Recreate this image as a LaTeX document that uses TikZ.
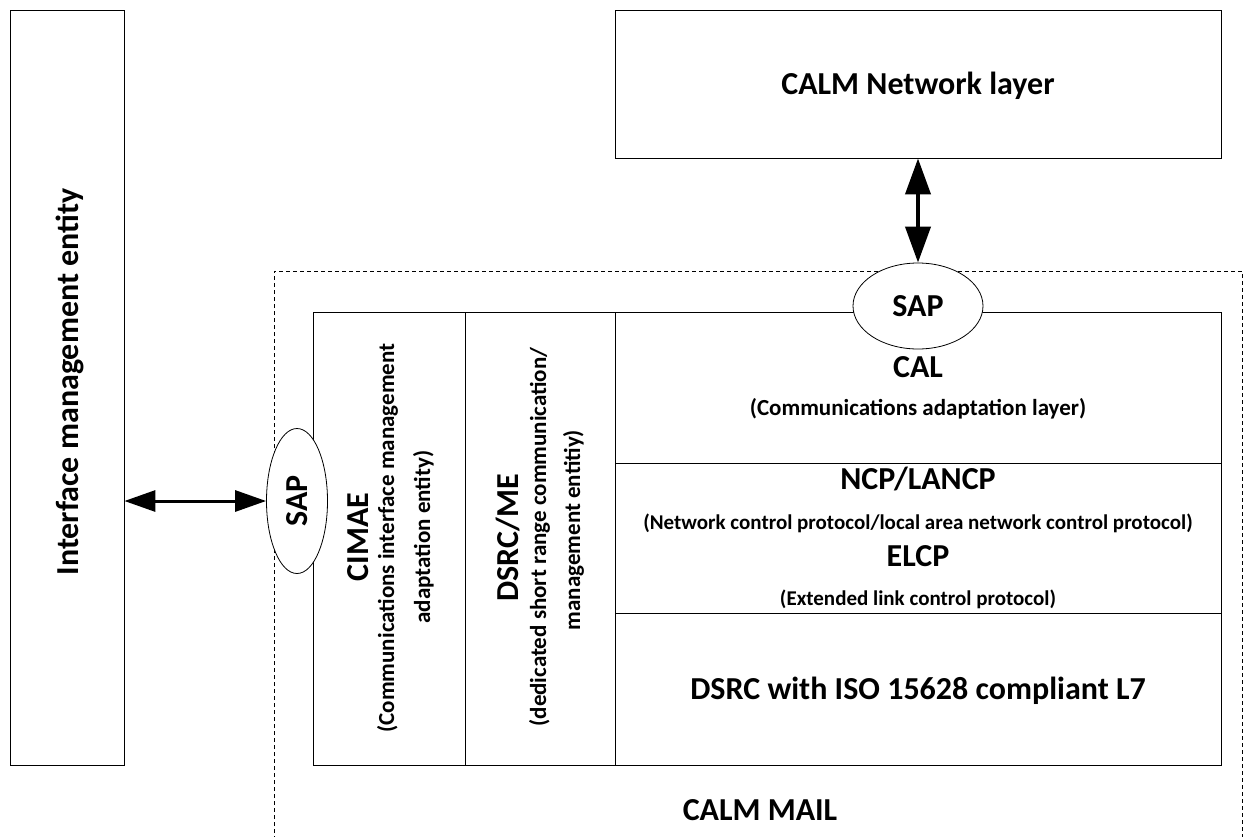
\documentclass[tikz,border=0pt]{standalone}
\usepackage{fontspec}
\setmainfont{Carlito}
\usetikzlibrary{arrows.meta,shapes.geometric}
\begin{document}
\begin{tikzpicture}[x=1pt,y=-1pt,
  boxst/.style={draw=black, line width=0.8pt, rectangle, inner sep=0pt},
  sapst/.style={draw=black, line width=0.8pt, ellipse, fill=white, inner sep=0pt,
    font=\fontsize{32}{38}\selectfont\bfseries},
  big/.style={font=\fontsize{32}{38}\selectfont\bfseries, inner sep=0pt, anchor=base},
  mid/.style={font=\fontsize{23}{28}\selectfont\bfseries, inner sep=0pt, anchor=base},
  sml/.style={font=\fontsize{21}{25}\selectfont\bfseries, inner sep=0pt, anchor=base},
  vbi/.style={line width=4pt, {Triangle[length=36pt,width=25pt]}-{Triangle[length=36pt,width=25pt]}},
  hbi/.style={line width=3pt, {Triangle[length=31pt,width=21pt]}-{Triangle[length=31pt,width=21pt]}}
]
\useasboundingbox (0,0) rectangle (1245,836);
% dashed CALM MAIL boundary
\draw[line width=0.6pt, dash pattern=on 4pt off 3pt] (274,840) -- (274,271) -- (1242,271) -- (1242,840);
% boxes
\node[boxst, minimum width=114pt, minimum height=755pt] (ime) at (67,387.5) {};
\node[boxst, minimum width=606pt, minimum height=148pt] (net) at (918,84) {};
\node[boxst, minimum width=152pt, minimum height=453pt] (cimae) at (389,538.5) {};
\node[boxst, minimum width=150pt, minimum height=453pt] (dsrcme) at (540,538.5) {};
\node[boxst, minimum width=606pt, minimum height=151pt] (cal) at (918,387.5) {};
\node[boxst, minimum width=606pt, minimum height=150pt] (ncp) at (918,538) {};
\node[boxst, minimum width=606pt, minimum height=152pt] (dsrc) at (918,689) {};
% SAP ellipses
\node[sapst, minimum width=130pt, minimum height=86pt] (sapT) at (918,306) {SAP};
\node[sapst, rotate=90, minimum width=145pt, minimum height=61pt] (sapL) at (297,501) {SAP};
% arrows
\draw[vbi] (net.south) -- (sapT.north);
\draw[hbi] (ime.east |- sapL.center) -- (sapL.north);
% texts
\node[big] (tnet) at (918,94) {CALM Network layer};
\node[big, rotate=90] (time) at (78,382) {Interface management entity};
\node[big] (tcal) at (918,377) {CAL};
\node[mid] (tcal2) at (918,415) {(Communications adaptation layer)};
\node[big] (tncp) at (918,489) {NCP/LANCP};
\node[sml] (tncp2) at (918,529) {(Network control protocol/local area network control protocol)};
\node[big] (telcp) at (918,566) {ELCP};
\node[sml] (telcp2) at (918,605) {(Extended link control protocol)};
\node[big] (tdsrc) at (918,699) {DSRC with ISO 15628 compliant L7};
\node[big] (tmail) at (760,820) {CALM MAIL};
\node[big, rotate=90] (tcimae) at (368,537) {CIMAE};
\node[mid, rotate=90] (tcimae2) at (394,538) {(Communications interface management};
\node[mid, rotate=90] (tcimae3) at (430,537) {adaptation entity)};
\node[big, rotate=90] (tme) at (518,538) {DSRC/ME};
\node[mid, rotate=90] (tme2) at (546,537) {(dedicated short range communication/};
\node[mid, rotate=90] (tme3) at (580,530) {management entitiy)};
\end{tikzpicture}
\end{document}
